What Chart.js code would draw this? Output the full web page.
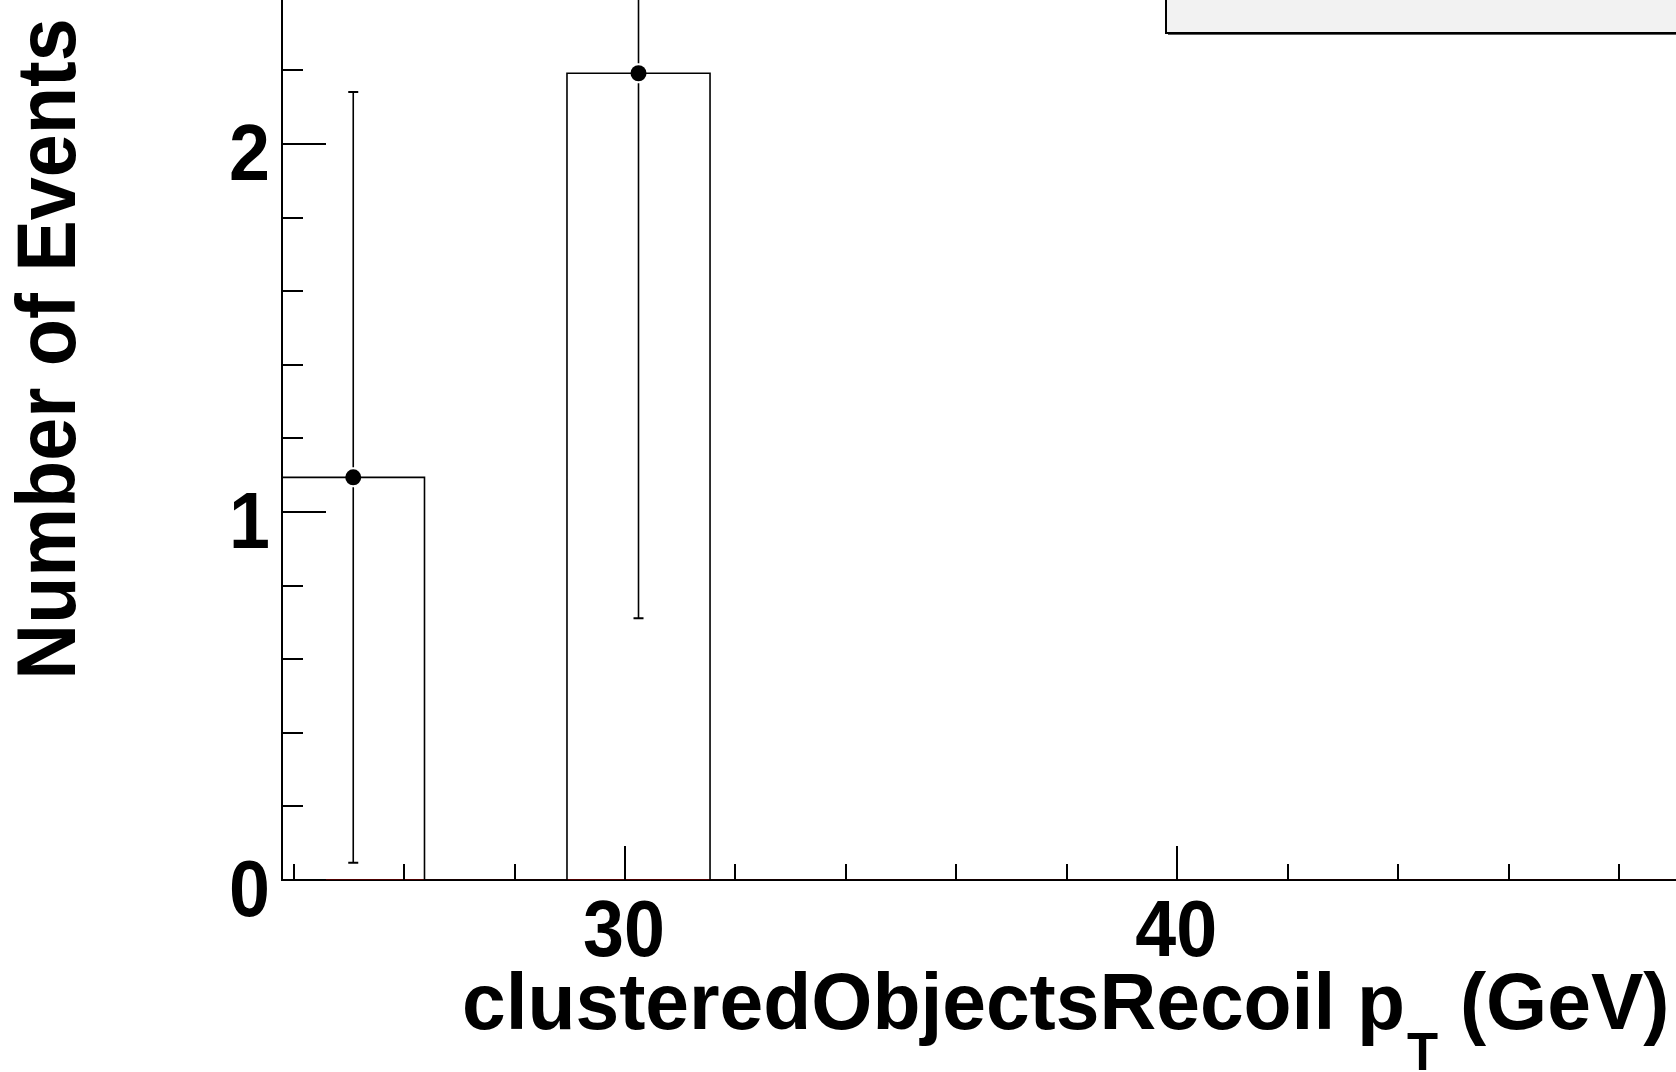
<!DOCTYPE html>
<html>
<head>
<meta charset="utf-8">
<script src="https://cdn.jsdelivr.net/npm/chart.js@4.4.0/dist/chart.umd.min.js"></script>
<style>
  html, body { margin: 0; padding: 0; background: #fff; overflow: hidden; }
</style>
</head>
<body>
<canvas id="chart" width="1676" height="1072"></canvas>
<script>
'use strict'

// bin edges (GeV) and contents
const binEdges = [23.79, 26.37, 28.95, 31.54, 34.12, 36.71, 39.29, 41.88, 44.46, 47.05, 49.63];
const binValues = [1.094, 0, 2.192, 0, 0, 0, 0, 0, 0, 0];
const binErrors = [1.047, 0, 1.481, 0, 0, 0, 0, 0, 0, 0];

// empty histogram lying on the axis (dark red)
const zeroEdges = [24.55, 49.63];
const zeroValues = [0, 0];

const xMajorTicks = [30, 40];
const xMinorTicks = [24, 26, 28, 32, 34, 36, 38, 42, 44, 46, 48];
const yMajorTicks = [0, 1, 2];
const yMinorTicks = [0.2, 0.4, 0.6, 0.8, 1.2, 1.4, 1.6, 1.8, 2.2];

const xTitle = 'clusteredObjectsRecoil p';
const xTitleSub = 'T';
const xTitleEnd = ' (GeV)';
const yTitle = 'Number of Events';

const FONT = '"Liberation Sans", Arial, Helvetica, sans-serif';

// step outline of the histogram
const histPoints = [{x: binEdges[0], y: 0}];
binEdges.forEach((e, i) => {
  histPoints.push({x: e, y: binValues[Math.min(i, binValues.length - 1)]});
});
histPoints.push({x: binEdges[binEdges.length - 1], y: 0});

// markers only for filled bins
const markerPoints = [];
binValues.forEach((v, i) => {
  if (v > 0) markerPoints.push({x: (binEdges[i] + binEdges[i + 1]) / 2, y: v, err: binErrors[i]});
});

const zeroPoints = zeroEdges.map((e, i) => ({x: e, y: zeroValues[i]}));

function drawText(ctx, text, x, y, size, align, sx) {
  ctx.save();
  ctx.translate(x, y);
  ctx.scale(sx, 1);
  ctx.font = 'bold ' + size + 'px ' + FONT;
  ctx.textAlign = align;
  ctx.textBaseline = 'alphabetic';
  ctx.fillStyle = '#000';
  ctx.fillText(text, 0, 0);
  ctx.restore();
}

function textWidth(ctx, text, size, sx) {
  ctx.save();
  ctx.font = 'bold ' + size + 'px ' + FONT;
  const w = ctx.measureText(text).width * sx;
  ctx.restore();
  return w;
}

const errorBars = {
  id: 'errorBars',
  afterDatasetsDraw(chart) {
    const {ctx, chartArea, scales: {y}} = chart;
    const meta = chart.getDatasetMeta(0);
    const pts = chart.data.datasets[0].data;
    ctx.save();
    ctx.beginPath();
    ctx.rect(chartArea.left, chartArea.top, chartArea.right - chartArea.left, chartArea.bottom - chartArea.top);
    ctx.clip();
    ctx.strokeStyle = '#000';
    meta.data.forEach((el, i) => {
      const d = pts[i];
      const top = y.getPixelForValue(d.y + d.err);
      const bot = y.getPixelForValue(d.y - d.err);
      const gap = 10;
      ctx.lineWidth = 1.6;
      ctx.beginPath();
      ctx.moveTo(el.x, el.y - gap);
      ctx.lineTo(el.x, top);
      ctx.moveTo(el.x, el.y + gap);
      ctx.lineTo(el.x, bot);
      ctx.stroke();
      ctx.lineWidth = 2;
      ctx.beginPath();
      ctx.moveTo(el.x - 5, top);
      ctx.lineTo(el.x + 5, top);
      ctx.moveTo(el.x - 5, bot);
      ctx.lineTo(el.x + 5, bot);
      ctx.stroke();
    });
    ctx.restore();
  }
};

const rootFrame = {
  id: 'rootFrame',
  afterDraw(chart) {
    const {ctx, chartArea, scales: {x, y}} = chart;
    ctx.save();
    ctx.strokeStyle = '#000';
    ctx.lineWidth = 2;
    ctx.beginPath();
    // ticks point into the frame
    yMajorTicks.forEach(v => {
      const py = Math.round(y.getPixelForValue(v));
      ctx.moveTo(chartArea.left, py);
      ctx.lineTo(chartArea.left + 44, py);
    });
    yMinorTicks.forEach(v => {
      const py = Math.round(y.getPixelForValue(v));
      ctx.moveTo(chartArea.left, py);
      ctx.lineTo(chartArea.left + 21, py);
    });
    xMajorTicks.forEach(v => {
      const px = Math.round(x.getPixelForValue(v));
      ctx.moveTo(px, chartArea.bottom);
      ctx.lineTo(px, chartArea.bottom - 34);
    });
    xMinorTicks.forEach(v => {
      const px = Math.round(x.getPixelForValue(v));
      ctx.moveTo(px, chartArea.bottom);
      ctx.lineTo(px, chartArea.bottom - 16);
    });
    ctx.stroke();

    // tick labels
    yMajorTicks.forEach(v => {
      drawText(ctx, String(v), chartArea.left - 12, y.getPixelForValue(v) + 36, 80, 'right', 0.92);
    });
    xMajorTicks.forEach(v => {
      drawText(ctx, String(v), x.getPixelForValue(v) - 1, 956, 80, 'center', 0.92);
    });

    // axis titles
    let tx = 462;
    drawText(ctx, xTitle, tx, 1029, 80, 'left', 0.982);
    tx += textWidth(ctx, xTitle, 80, 0.982) + 2;
    drawText(ctx, xTitleSub, tx, 1070, 53, 'left', 0.96);
    tx += textWidth(ctx, xTitleSub, 53, 0.96);
    drawText(ctx, xTitleEnd, tx, 1029, 80, 'left', 0.982);

    ctx.save();
    ctx.translate(75, 349);
    ctx.rotate(-Math.PI / 2);
    drawText(ctx, yTitle, 0, 0, 84, 'center', 0.92);
    ctx.restore();

    // legend box, cut by the top right corner
    ctx.fillStyle = '#5a5a5a';
    ctx.fillRect(1168, -10, 600, 45);
    ctx.fillStyle = '#f2f2f2';
    ctx.fillRect(1166, -10, 600, 43);
    ctx.strokeStyle = '#000';
    ctx.lineWidth = 2;
    ctx.strokeRect(1166, -10, 600, 43);
    ctx.restore();
  }
};

const ctx = document.getElementById('chart');
new Chart(ctx, {
  type: 'scatter',
  data: {
    datasets: [{
      label: 'data',
      data: markerPoints,
      backgroundColor: '#000',
      borderWidth: 0,
      pointRadius: 8,
      pointHoverRadius: 8
    }, {
      type: 'line',
      label: 'hist',
      data: histPoints,
      stepped: 'before',
      borderColor: '#000',
      borderWidth: 1.6,
      pointRadius: 0,
      fill: false
    }, {
      type: 'line',
      label: 'zero',
      data: zeroPoints,
      borderColor: '#990000',
      borderWidth: 1.2,
      pointRadius: 0,
      fill: false
    }]
  },
  options: {
    responsive: false,
    animation: false,
    devicePixelRatio: 1,
    layout: {
      autoPadding: false,
      padding: {left: 282, right: 0, top: 0, bottom: 192}
    },
    scales: {
      x: {
        type: 'linear',
        min: 23.79,
        max: 49.03,
        grid: {display: false, drawTicks: false},
        ticks: {display: false},
        border: {display: true, color: '#000', width: 2}
      },
      y: {
        type: 'linear',
        min: 0,
        max: 2.391,
        grid: {display: false, drawTicks: false},
        ticks: {display: false},
        border: {display: true, color: '#000', width: 2}
      }
    },
    plugins: {
      legend: {display: false},
      tooltip: {enabled: false}
    }
  },
  plugins: [errorBars, rootFrame]
});
</script>
</body>
</html>
